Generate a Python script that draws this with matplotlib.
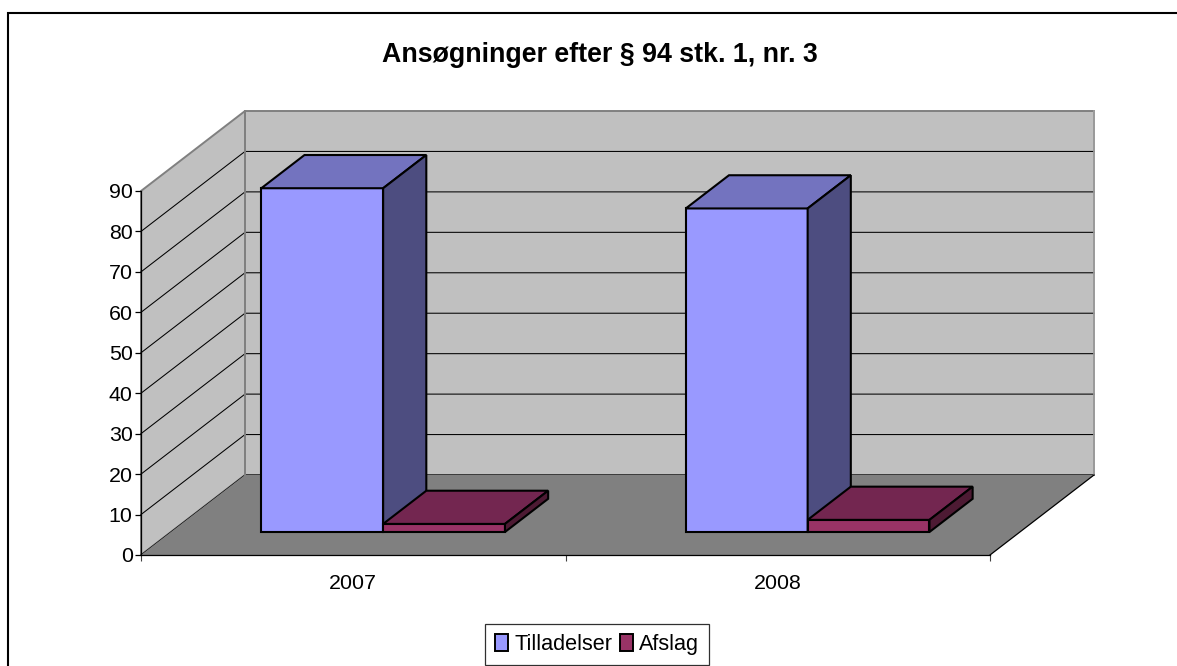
import matplotlib
matplotlib.use("Agg")
import matplotlib.pyplot as plt
from matplotlib.patches import Polygon, Patch
from matplotlib.lines import Line2D

plt.rcParams['font.family'] = ['Liberation Sans', 'DejaVu Sans']

title = "Ansøgninger efter § 94 stk. 1, nr. 3"
years = ["2007", "2008"]
series_names = ["Tilladelser", "Afslag"]
tilladelser = [85, 80]
afslag = [2, 3]
y_ticks = [0, 10, 20, 30, 40, 50, 60, 70, 80, 90]

W, H = 1177, 666
L, R, T, B = 141, 990, 191, 555
fig = plt.figure(figsize=(W / 100, H / 100), dpi=100, facecolor="white")
ax = fig.add_axes([L / W, 1 - B / H, (R - L) / W, (B - T) / H])
ax.set_xlim(0, 2)
ax.set_ylim(0, 90)
ax.patch.set_visible(False)

# oblique projection: depth 0..1 shifts a point right and up, in data units
DX = 104 / (R - L) * 2
DY = 80 / (B - T) * 90


def P(x, y, d=0.0):
    return (x + d * DX, y + d * DY)


def face(pts, fc, ec, lw, z):
    ax.add_patch(Polygon([P(*p) for p in pts], closed=True, facecolor=fc, edgecolor=ec,
                         linewidth=lw, zorder=z, clip_on=False, joinstyle="miter"))


ymax, xmax = y_ticks[-1], len(years)
face([(0, 0, 1), (xmax, 0, 1), (xmax, ymax, 1), (0, ymax, 1)], "#C0C0C0", "#808080", 1.4, 1)
face([(0, 0, 0), (0, 0, 1), (0, ymax, 1), (0, ymax, 0)], "#C0C0C0", "#808080", 1.4, 1)
for v in y_ticks[:-1]:
    xs, ys = zip(P(0, v, 0), P(0, v, 1), P(xmax, v, 1))
    ax.plot(xs, ys, color="black", lw=0.75, zorder=2, clip_on=False)
face([(0, 0, 0), (xmax, 0, 0), (xmax, 0, 1), (0, 0, 1)], "#808080", "none", 0, 3)
xs, ys = zip(P(xmax, 0, 0), P(xmax, 0, 1))
ax.plot(xs, ys, color="black", lw=0.9, zorder=4, clip_on=False)
xs, ys = zip(P(0, 0, 1), P(0, ymax, 1))
ax.plot(xs, ys, color="#808080", lw=1.4, zorder=2.5, clip_on=False)
xs, ys = zip(P(xmax, 0, 1), P(xmax, ymax, 1))
ax.plot(xs, ys, color="#A0A0A0", lw=1.2, zorder=2.5, clip_on=False)

BAR_W = 0.287
D0, D1 = 0.2875, 0.7025
COLORS = [("#9999FF", "#7373BF", "#4D4D80"), ("#993366", "#732650", "#4D1A33")]


def bar3d(x0, v, cols, z):
    x1 = x0 + BAR_W
    front, top, side = cols
    face([(x0, 0, D0), (x1, 0, D0), (x1, v, D0), (x0, v, D0)], front, "black", 1.5, z)
    face([(x0, v, D0), (x1, v, D0), (x1, v, D1), (x0, v, D1)], top, "black", 1.5, z)
    face([(x1, 0, D0), (x1, 0, D1), (x1, v, D1), (x1, v, D0)], side, "black", 1.5, z)


for i in range(len(years)):
    c = i + 0.5
    bar3d(c - BAR_W, tilladelser[i], COLORS[0], 10 + i)
    bar3d(c, afslag[i], COLORS[1], 10.5 + i)

for s in ("top", "right"):
    ax.spines[s].set_visible(False)
for s in ("left", "bottom"):
    ax.spines[s].set_linewidth(0.9)
    ax.spines[s].set_zorder(5)
ax.set_yticks(y_ticks)
ax.set_xticks(range(len(years) + 1))
ax.set_xticklabels([])
ax.set_xticks([i + 0.5 for i in range(len(years))], minor=True)
ax.set_xticklabels(years, minor=True, fontsize=15.4)
ax.tick_params(axis="x", which="major", length=4, width=0.8, color="#404040")
ax.tick_params(axis="x", which="minor", length=0, pad=14)
ax.tick_params(axis="y", length=4, width=0.9, labelsize=15.4, pad=2)

fig.text(600 / W, 1 - 55 / H, title, ha="center", va="center", fontsize=19.3, fontweight="bold")

fig.add_artist(Line2D([8.3 / W, 8.3 / W, 1], [0, 1 - 12.7 / H, 1 - 12.7 / H],
                      color="black", lw=1.5, solid_joinstyle="miter"))

handles = [Patch(facecolor=COLORS[i][0], edgecolor="black", linewidth=1.4, label=series_names[i])
           for i in range(2)]
leg = fig.legend(handles=handles, loc="center", bbox_to_anchor=(597 / W, 1 - 644.5 / H),
                 ncol=2, fontsize=15.6, frameon=True, fancybox=False, edgecolor="#303030",
                 framealpha=1, handlelength=0.6, handleheight=0.8, handletextpad=0.3,
                 columnspacing=0.35, borderpad=0.45, borderaxespad=0)
leg.get_frame().set_linewidth(0.9)

fig.savefig("out.png", dpi=100, facecolor="white")
